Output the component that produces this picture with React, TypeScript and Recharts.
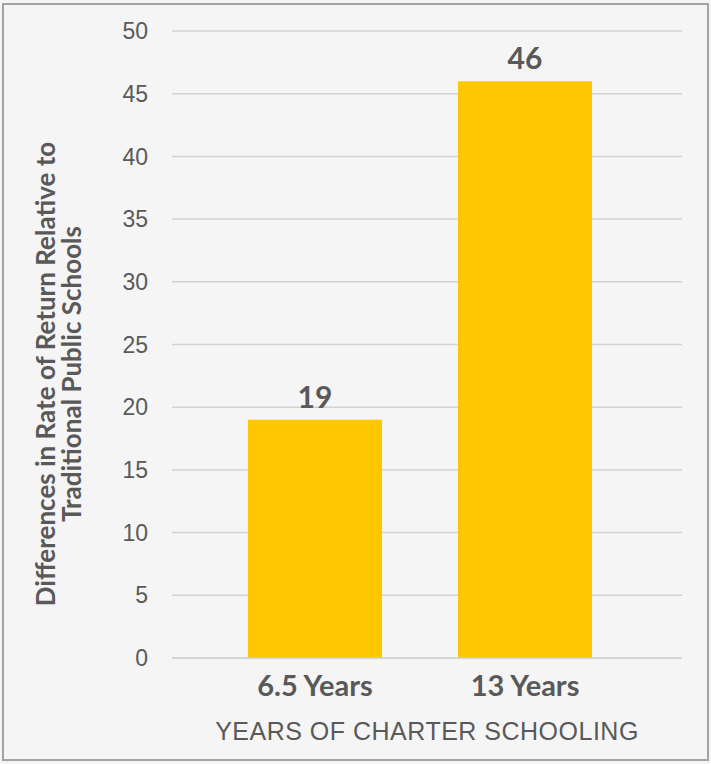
import React from "react";
import { BarChart, Bar, XAxis, YAxis, CartesianGrid, LabelList, Label } from "recharts";

const categories = ["6.5 Years", "13 Years"];
const values = [19, 46];
const yTicks = [0, 5, 10, 15, 20, 25, 30, 35, 40, 45, 50];

const data = categories.map((name, i) => ({ name, value: values[i] }));

const TEXT = "#595959";
const BOLD_FONT = "Lato, 'Open Sans', sans-serif";
const PLAIN_FONT = "'Liberation Sans', Arial, sans-serif";

const YTitle = () => {
    const cy = 374;
    const x = 55;
    return (
        <text
            transform={`rotate(-90, ${x}, ${cy})`}
            x={x}
            y={cy}
            textAnchor="middle"
            fill={TEXT}
            fontFamily={BOLD_FONT}
            fontWeight="bold"
            fontSize={26}
        >
            <tspan x={x} dy={0}>Differences in Rate of Return Relative to</tspan>
            <tspan x={x} dy={26}>Traditional Public Schools</tspan>
        </text>
    );
};

const App = () => {
    return (
        <div style={{ position: "absolute", left: 0, top: 0, width: 711, height: 764, background: "#f5f5f5" }}>
            <div
                style={{
                    position: "absolute",
                    left: 2,
                    top: 3,
                    width: 707,
                    height: 758,
                    border: "2px solid #a3a3a3",
                    boxSizing: "border-box",
                }}
            />
            <BarChart
                width={711}
                height={764}
                data={data}
                margin={{ top: 31, right: 29, bottom: 0, left: 0 }}
                style={{ position: "absolute", left: 0, top: 0 }}
            >
                <CartesianGrid vertical={false} stroke="#d2d2d2" strokeWidth={1.5} />
                <XAxis
                    dataKey="name"
                    height={106}
                    padding={{ left: 38, right: 52 }}
                    axisLine={{ stroke: "#d2d2d2", strokeWidth: 1.5 }}
                    tickLine={false}
                    tick={{ fill: TEXT, fontSize: 29, fontWeight: "bold", fontFamily: BOLD_FONT }}
                    tickMargin={11}
                >
                    <Label
                        value="YEARS OF CHARTER SCHOOLING"
                        position="insideBottom"
                        offset={24}
                        fill={TEXT}
                        fontSize={25}
                        letterSpacing={0.5}
                        fontFamily={PLAIN_FONT}
                    />
                </XAxis>
                <YAxis
                    width={172}
                    domain={[0, 50]}
                    ticks={yTicks}
                    interval={0}
                    axisLine={false}
                    tickLine={false}
                    tickMargin={18}
                    tick={{ fill: TEXT, fontSize: 23, fontFamily: PLAIN_FONT }}
                >
                    <Label content={<YTitle />} />
                </YAxis>
                <Bar dataKey="value" fill="#FFC700" barSize={134} isAnimationActive={false}>
                    <LabelList
                        dataKey="value"
                        position="top"
                        offset={12}
                        fill={TEXT}
                        fontSize={30}
                        fontWeight="bold"
                        fontFamily={BOLD_FONT}
                    />
                </Bar>
            </BarChart>
        </div>
    );
};

export default App;
